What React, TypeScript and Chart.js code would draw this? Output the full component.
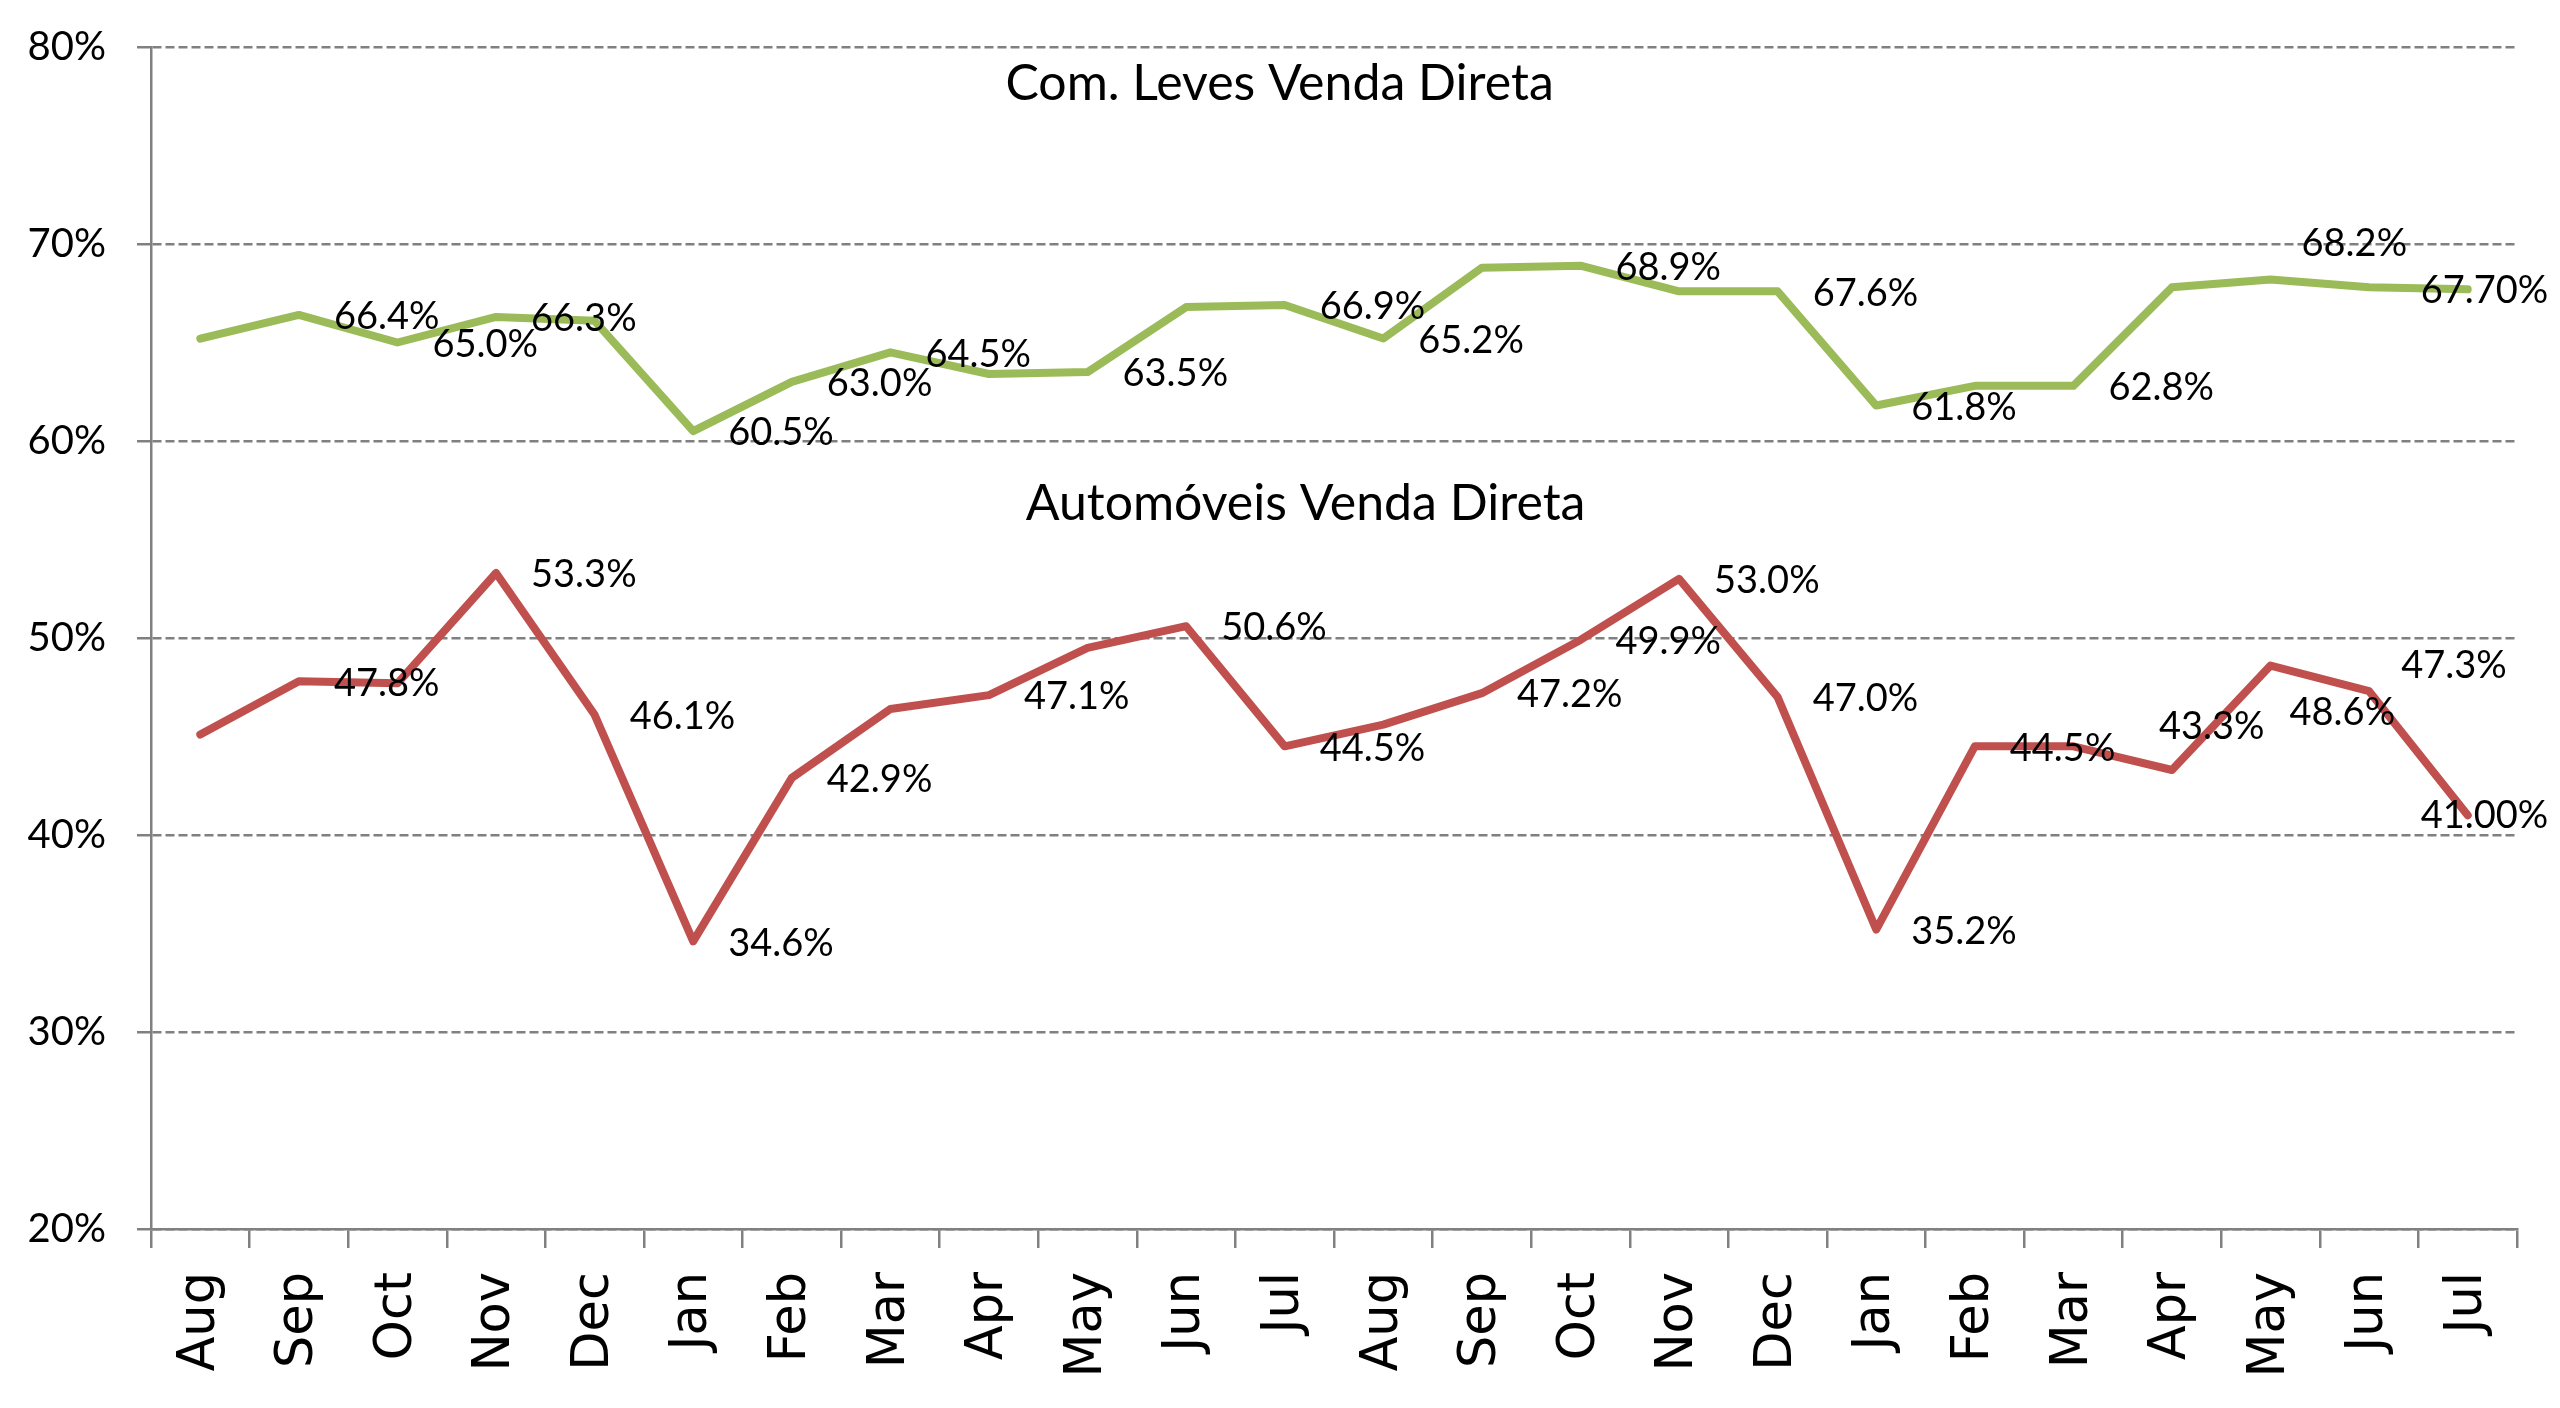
import React, { useEffect, useRef } from 'react';
import { Chart, registerables, Plugin } from 'chart.js';

Chart.register(...registerables);

// months (24 months, Aug -> Jul of the following year, twice)
const months = [
  'Aug', 'Sep', 'Oct', 'Nov', 'Dec', 'Jan', 'Feb', 'Mar', 'Apr', 'May', 'Jun', 'Jul',
  'Aug', 'Sep', 'Oct', 'Nov', 'Dec', 'Jan', 'Feb', 'Mar', 'Apr', 'May', 'Jun', 'Jul'
];

// Com. Leves Venda Direta (%)
const comLeves = [
  65.2, 66.4, 65.0, 66.3, 66.1, 60.5, 63.0, 64.5, 63.4, 63.5, 66.8, 66.9,
  65.2, 68.8, 68.9, 67.6, 67.6, 61.8, 62.8, 62.8, 67.8, 68.2, 67.8, 67.7
];
const comLevesLabels = [
  null, '66.4%', '65.0%', '66.3%', null, '60.5%', '63.0%', '64.5%', null, '63.5%', null, '66.9%',
  '65.2%', null, '68.9%', null, '67.6%', '61.8%', null, '62.8%', null, '68.2%', null, '67.70%'
];

// Automóveis Venda Direta (%)
const automoveis = [
  45.1, 47.8, 47.7, 53.3, 46.1, 34.6, 42.9, 46.4, 47.1, 49.5, 50.6, 44.5,
  45.6, 47.2, 49.9, 53.0, 47.0, 35.2, 44.5, 44.5, 43.3, 48.6, 47.3, 41.0
];
const automoveisLabels = [
  null, '47.8%', null, '53.3%', '46.1%', '34.6%', '42.9%', null, '47.1%', null, '50.6%', '44.5%',
  null, '47.2%', '49.9%', '53.0%', '47.0%', '35.2%', '44.5%', null, '43.3%', '48.6%', '47.3%', '41.00%'
];

const yTicks = [20, 30, 40, 50, 60, 70, 80];

const GREEN = '#9BBB59';
const RED = '#C0504D';
const GRID = '#808080';
const LABEL_FONT = 'Lato';

// draws the value labels next to the points (Excel style, right of the point)
const pointLabelsPlugin: Plugin = {
  id: 'pointLabels',
  afterDatasetsDraw(chart, _args, opts: any) {
    const ctx = chart.ctx;
    ctx.save();
    ctx.font = `${opts.size}px ${LABEL_FONT}`;
    ctx.fillStyle = '#000';
    ctx.textAlign = 'left';
    ctx.textBaseline = 'middle';
    chart.data.datasets.forEach((ds: any, di) => {
      const meta = chart.getDatasetMeta(di);
      const labels: (string | null)[] = ds.pointLabels || [];
      const moved = (opts.moved && opts.moved[di]) || {};
      meta.data.forEach((pt: any, i: number) => {
        const text = labels[i];
        if (!text) return;
        const [dx, dy] = moved[i] || opts.offset;
        ctx.fillText(text, pt.x + dx, pt.y + dy);
      });
    });
    ctx.restore();
  }
};

// series names written inside the plot area
const seriesTitlesPlugin: Plugin = {
  id: 'seriesTitles',
  afterDatasetsDraw(chart, _args, opts: any) {
    const { ctx, chartArea } = chart;
    const y = chart.scales.y;
    ctx.save();
    ctx.font = `${opts.size}px ${LABEL_FONT}`;
    ctx.fillStyle = '#000';
    ctx.textAlign = 'center';
    ctx.textBaseline = 'alphabetic';
    opts.items.forEach((it: any) => {
      const x = chartArea.left + it.x * (chartArea.right - chartArea.left);
      ctx.fillText(it.text, x, y.getPixelForValue(it.y));
    });
    ctx.restore();
  }
};

const App: React.FC = () => {
  const canvasRef = useRef<HTMLCanvasElement | null>(null);

  useEffect(() => {
    document.body.style.margin = '0';
    if (!canvasRef.current) return;

    const chart = new Chart(canvasRef.current, {
      type: 'line',
      data: {
        labels: months,
        datasets: [
          {
            label: 'Com. Leves Venda Direta',
            data: comLeves,
            borderColor: GREEN,
            borderWidth: 8,
            pointRadius: 0,
            tension: 0,
            borderJoinStyle: 'round',
            borderCapStyle: 'round',
            pointLabels: comLevesLabels
          } as any,
          {
            label: 'Automóveis Venda Direta',
            data: automoveis,
            borderColor: RED,
            borderWidth: 8,
            pointRadius: 0,
            tension: 0,
            borderJoinStyle: 'round',
            borderCapStyle: 'round',
            pointLabels: automoveisLabels
          } as any
        ]
      },
      options: {
        responsive: true,
        maintainAspectRatio: false,
        animation: false,
        devicePixelRatio: 1,
        layout: { padding: { top: 47, right: 43, left: 0, bottom: 0 } },
        plugins: {
          legend: { display: false },
          title: { display: false },
          tooltip: { enabled: false },
          pointLabels: {
            size: 38,
            offset: [35, 2],
            moved: {
              0: { 21: [31, -36], 23: [-47, 1] },
              1: { 20: [-13, -43], 21: [19, 47], 22: [32, -25], 23: [-47, 0] }
            }
          },
          seriesTitles: {
            size: 50,
            items: [
              { text: 'Com. Leves Venda Direta', x: 0.477, y: 77.3 },
              { text: 'Automóveis Venda Direta', x: 0.488, y: 56.0 }
            ]
          }
        } as any,
        scales: {
          x: {
            type: 'category',
            offset: true,
            afterFit: (scale: any) => { scale.height = 179; },
            grid: {
              offset: true,
              drawOnChartArea: false,
              drawTicks: true,
              tickLength: 19,
              color: GRID,
              lineWidth: 2.5
            },
            border: { display: true, color: GRID, width: 2.5 },
            ticks: {
              autoSkip: false,
              minRotation: 90,
              maxRotation: 90,
              padding: 24,
              color: '#000',
              font: { family: 'DejaVu Sans', size: 51 }
            }
          },
          y: {
            min: 20,
            max: 80,
            afterFit: (scale: any) => {
              scale.width = 151;
              scale.paddingTop = 0;
              scale.paddingBottom = 0;
            },
            afterBuildTicks: (scale: any) => {
              scale.ticks = yTicks.map((v) => ({ value: v }));
            },
            grid: {
              color: GRID,
              lineWidth: 2.5,
              drawTicks: true,
              tickLength: 14
            },
            border: { display: true, color: GRID, width: 2.5, dash: [9, 4] },
            ticks: {
              padding: 31,
              color: '#000',
              font: { family: LABEL_FONT, size: 40 },
              callback: (v: any) => `${v}%`
            }
          }
        }
      },
      plugins: [pointLabelsPlugin, seriesTitlesPlugin]
    });

    return () => {
      chart.destroy();
    };
  }, []);

  return (
    <div style={{ position: 'absolute', left: 0, top: 0, width: 2560, height: 1408, background: '#fff' }}>
      <canvas ref={canvasRef} />
    </div>
  );
};

export default App;
